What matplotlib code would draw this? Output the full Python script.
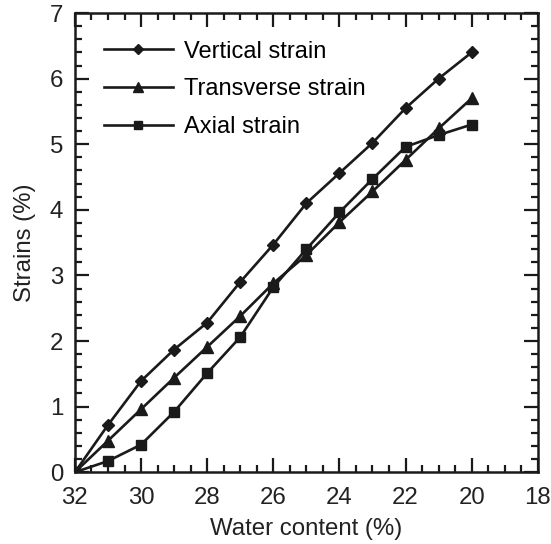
import matplotlib
matplotlib.use("Agg")
import matplotlib.pyplot as plt
from matplotlib.ticker import MultipleLocator

water_content = [32, 31, 30, 29, 28, 27, 26, 25, 24, 23, 22, 21, 20]
vertical_strain = [0, 0.72, 1.39, 1.87, 2.28, 2.9, 3.47, 4.1, 4.56, 5.02, 5.55, 6.0, 6.4]
transverse_strain = [0, 0.48, 0.96, 1.44, 1.91, 2.38, 2.88, 3.31, 3.81, 4.28, 4.76, 5.24, 5.7]
axial_strain = [0, 0.17, 0.42, 0.92, 1.51, 2.06, 2.82, 3.4, 3.96, 4.47, 4.96, 5.14, 5.3]

plt.rcParams["font.family"] = ["Liberation Sans", "DejaVu Sans"]
ink = "#1a1a1a"
text_color = "#222222"

fig = plt.figure(figsize=(5.51, 5.44), dpi=100)
ax = fig.add_axes([0.136, 0.132, 0.840, 0.844])

ax.plot(water_content, vertical_strain, color=ink, lw=1.9, marker="D", ms=6.5,
        label="Vertical strain")
ax.plot(water_content, transverse_strain, color=ink, lw=1.9, marker="^", ms=8.5,
        label="Transverse strain")
ax.plot(water_content, axial_strain, color=ink, lw=1.9, marker="s", ms=6.5,
        label="Axial strain")

ax.set_xlim(32, 18)
ax.set_ylim(0, 7)
ax.xaxis.set_major_locator(MultipleLocator(2))
ax.xaxis.set_minor_locator(MultipleLocator(0.5))
ax.yaxis.set_major_locator(MultipleLocator(1))
ax.yaxis.set_minor_locator(MultipleLocator(0.2))

for spine in ax.spines.values():
    spine.set_linewidth(1.8)
    spine.set_color(ink)
ax.tick_params(which="both", direction="in", top=True, right=True,
               color=ink, width=1.6, labelcolor=text_color, labelsize=17.3)
ax.tick_params(which="major", length=10)
ax.tick_params(which="minor", length=5)
ax.tick_params(axis="x", pad=11)
ax.tick_params(axis="y", pad=8.5)

ax.set_xlabel("Water content (%)", fontsize=17.3, color=text_color, labelpad=6)
ax.set_ylabel("Strains (%)", fontsize=17.3, color=text_color, labelpad=10)

ax.legend(loc="upper left", frameon=False, fontsize=17, handlelength=2.9,
          handletextpad=0.47, labelspacing=0.66, borderaxespad=0, borderpad=0,
          markerscale=0.8, bbox_to_anchor=(0.063, 0.94))

fig.savefig("out.png", dpi=100)
